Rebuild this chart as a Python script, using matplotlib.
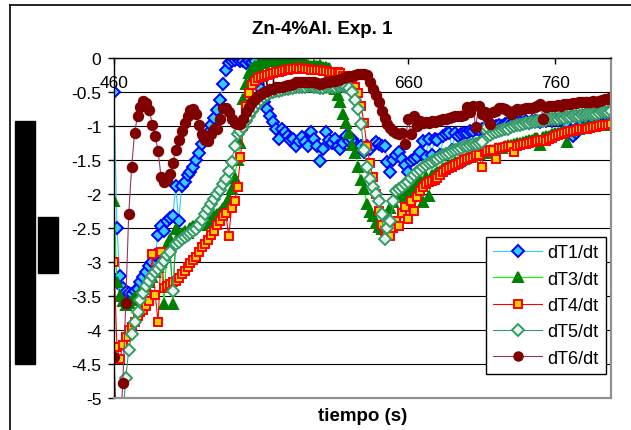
import numpy as np
import matplotlib
matplotlib.use("Agg")
import matplotlib.pyplot as plt
from matplotlib.patches import Rectangle
from matplotlib.lines import Line2D

plt.rcParams['font.family'] = ['Liberation Sans', 'DejaVu Sans']

# tiempo (s), una lectura cada 2 s
t = np.arange(460, 800, 2)

dT1 = [
    -0.5, -2.5, -3.2, -3.38, -3.44, -3.46, -3.47, -3.43, -3.4, -3.3,
    -3.22, -3.14, -3.06, -3.0, -2.9, -2.6, -2.47, -2.54, -2.4, -2.35,
    -2.32, -1.88, -2.4, -1.88, -1.82, -1.72, -1.68, -1.6, -1.5, -1.4,
    -1.27, -1.18, -1.1, -0.98, -0.88, -0.76, -0.62, -0.38, -0.18, -0.08,
    -0.05, -0.03, -0.02, -0.05, -0.04, -0.08, -0.05, -0.06, -0.05, -0.2,
    -0.45, -0.65, -0.75, -0.85, -0.94, -1.04, -1.19, -1.05, -1.09, -1.14,
    -1.2, -1.19, -1.29, -1.22, -1.16, -1.24, -1.3, -1.09, -1.19, -1.3,
    -1.51, -1.34, -1.09, -1.2, -1.25, -1.19, -1.29, -1.34, -1.25, -1.15,
    -1.22, -1.19, -1.26, -1.3, -1.29, -1.38, -1.3, -1.34, -1.28, -1.24,
    -1.26, -1.3, -1.29, -1.53, -1.68, -1.5, -1.42, -1.38, -1.49, -1.58,
    -1.68, -1.52, -1.49, -1.45, -1.38, -1.22, -1.45, -1.19, -1.42, -1.19,
    -1.2, -1.42, -1.15, -1.12, -1.1, -1.35, -1.1, -1.15, -1.12, -1.1,
    -1.1, -1.08, -1.07, -1.05, -1.06, -1.04, -1.03, -1.02, -1.04, -1.0,
    -1.0, -0.98, -1.0, -0.97, -0.96, -0.97, -0.95, -0.96, -0.94, -0.95,
    -0.93, -0.95, -0.92, -0.93, -0.92, -0.94, -0.91, -0.92, -0.9, -0.92,
    -0.9, -0.91, -0.92, -0.95, -1.0, -1.08, -1.14, -1.1, -1.0, -0.95,
    -0.9, -0.88, -0.87, -0.88, -0.86, -0.85, -0.84, -0.84, -0.83, -0.82,
]

dT3 = [
    -2.1, -3.3, -3.5, -3.58, -3.63, -3.6, -3.56, -3.52, -3.48, -3.44,
    -3.4, -3.36, -3.3, -3.22, -3.14, -3.08, -3.0, -3.62, -2.75, -2.66,
    -3.62, -2.52, -2.6, -2.58, -2.55, -2.57, -2.5, -2.47, -2.45, -2.42,
    -2.45, -2.42, -2.4, -2.36, -2.33, -2.3, -2.26, -2.2, -2.14, -2.06,
    -1.92, -1.76, -1.5, -1.25, -0.6, -0.38, -0.22, -0.15, -0.12, -0.1,
    -0.08, -0.07, -0.05, -0.04, -0.03, -0.04, -0.03, -0.04, -0.05, -0.04,
    -0.05, -0.06, -0.05, -0.07, -0.08, -0.07, -0.1, -0.12, -0.1, -0.12,
    -0.11, -0.13, -0.13, -0.15, -0.3, -0.45, -0.55, -0.65, -0.82, -0.95,
    -1.1, -1.28, -1.4, -1.6, -1.8, -1.92, -2.15, -2.27, -2.33, -2.42,
    -2.48, -2.51, -2.4, -2.3, -2.2, -2.12, -2.05, -2.0, -1.98, -2.03,
    -1.95, -1.9, -1.92, -1.85, -1.8, -2.12, -1.75, -2.03, -1.72, -1.7,
    -1.68, -1.66, -1.62, -1.61, -1.58, -1.56, -1.53, -1.53, -1.5, -1.48,
    -1.46, -1.46, -1.43, -1.42, -1.41, -1.39, -1.39, -1.37, -1.35, -1.35,
    -1.33, -1.32, -1.32, -1.3, -1.28, -1.28, -1.26, -1.25, -1.25, -1.23,
    -1.22, -1.21, -1.2, -1.18, -1.18, -1.28, -1.16, -1.14, -1.14, -1.12,
    -1.11, -1.1, -1.09, -1.08, -1.24, -1.07, -1.06, -1.05, -1.04, -1.03,
    -1.02, -1.01, -1.0, -1.0, -0.99, -0.99, -0.98, -0.98, -0.97, -0.97,
]

dT4 = [
    -3.0, -4.25, -4.43, -4.22, -4.1, -4.0, -3.96, -3.88, -3.8, -3.74,
    -3.7, -3.64, -3.58, -2.88, -3.48, -3.88, -2.86, -3.38, -3.35, -3.32,
    -3.3, -3.28, -3.24, -3.18, -3.13, -3.08, -3.02, -2.97, -2.92, -2.85,
    -2.78, -2.74, -2.68, -2.6, -2.54, -2.46, -2.4, -2.32, -2.28, -2.62,
    -2.2, -2.1, -1.9, -1.46, -1.0, -0.7, -0.52, -0.4, -0.34, -0.3,
    -0.28, -0.26, -0.25, -0.24, -0.22, -0.21, -0.2, -0.19, -0.18, -0.17,
    -0.16, -0.16, -0.15, -0.16, -0.15, -0.16, -0.16, -0.17, -0.17, -0.18,
    -0.18, -0.19, -0.19, -0.2, -0.2, -0.21, -0.21, -0.22, -0.26, -0.29,
    -0.31, -0.35, -0.42, -0.52, -0.7, -0.95, -1.3, -1.55, -1.75, -2.0,
    -2.25, -2.45, -2.55, -2.59, -2.62, -2.5, -2.4, -2.47, -2.28, -2.19,
    -2.37, -2.1, -2.25, -2.05, -1.95, -1.9, -1.86, -1.83, -1.81, -1.79,
    -1.76, -1.72, -1.68, -1.65, -1.62, -1.6, -1.58, -1.56, -1.53, -1.5,
    -1.48, -1.47, -1.45, -1.43, -1.42, -1.6, -1.38, -1.37, -1.36, -1.35,
    -1.49, -1.33, -1.32, -1.31, -1.3, -1.3, -1.38, -1.29, -1.28, -1.27,
    -1.26, -1.25, -1.24, -1.23, -1.22, -1.21, -1.2, -1.22, -1.19, -1.17,
    -1.15, -1.13, -1.12, -1.1, -1.09, -1.08, -1.07, -1.06, -1.05, -1.05,
    -1.04, -1.04, -1.03, -1.02, -1.01, -1.0, -0.99, -0.99, -0.98, -0.97,
]

dT5 = [
    -5.9, -5.8, -5.6, -5.3, -4.7, -4.3, -4.06, -3.88, -3.74, -3.56,
    -3.45, -3.36, -3.28, -3.2, -3.15, -3.1, -3.04, -2.98, -2.9, -2.86,
    -3.42, -2.74, -2.7, -2.66, -2.63, -2.6, -2.57, -2.54, -2.51, -2.45,
    -2.38, -2.3, -2.22, -2.15, -2.08, -2.0, -1.94, -1.86, -1.78, -1.66,
    -1.53, -1.3, -1.12, -1.08, -1.02, -0.92, -0.85, -0.78, -0.72, -0.66,
    -0.62, -0.58, -0.54, -0.52, -0.5, -0.49, -0.48, -0.47, -0.46, -0.45,
    -0.44, -0.44, -0.43, -0.43, -0.42, -0.42, -0.41, -0.41, -0.42, -0.43,
    -0.44, -0.44, -0.43, -0.43, -0.42, -0.42, -0.41, -0.41, -0.41, -0.42,
    -0.44, -0.5, -0.62, -0.75, -0.97, -1.35, -1.6, -1.78, -1.9, -2.0,
    -2.1, -2.3, -2.66, -2.5, -2.4, -2.1, -1.95, -1.92, -1.9, -1.86,
    -1.82, -1.76, -1.72, -1.68, -1.64, -1.6, -1.57, -1.55, -1.53, -1.5,
    -1.48, -1.45, -1.43, -1.41, -1.39, -1.37, -1.35, -1.34, -1.32, -1.3,
    -1.29, -1.28, -1.27, -1.26, -1.25, -1.23, -1.05, -1.02, -1.13, -1.11,
    -1.09, -1.08, -1.06, -1.05, -1.04, -1.02, -1.0, -0.99, -0.98, -0.97,
    -0.96, -0.95, -0.94, -0.94, -0.93, -0.92, -0.92, -0.91, -0.9, -0.9,
    -0.89, -0.89, -0.88, -0.88, -0.87, -0.87, -0.86, -0.85, -0.85, -0.84,
    -0.84, -0.83, -0.83, -0.82, -0.82, -0.81, -0.8, -0.8, -0.79, -0.78,
]

dT6 = [
    -4.4, -5.6, -5.5, -4.78, -3.6, -2.3, -1.6, -1.1, -0.85, -0.72,
    -0.63, -0.66, -0.76, -0.98, -1.15, -1.37, -1.75, -1.82, -1.8, -1.7,
    -1.55, -1.35, -1.2, -1.08, -0.95, -0.85, -0.76, -0.75, -0.82, -0.98,
    -1.12, -1.2, -1.22, -1.12, -1.04, -1.05, -0.9, -0.74, -0.73, -0.8,
    -0.9, -0.96, -0.97, -0.97, -0.9, -0.8, -0.72, -0.65, -0.6, -0.56,
    -0.53, -0.5, -0.48, -0.46, -0.45, -0.43, -0.43, -0.42, -0.41, -0.4,
    -0.39, -0.38, -0.36, -0.35, -0.35, -0.35, -0.35, -0.35, -0.36, -0.37,
    -0.38, -0.37, -0.36, -0.35, -0.34, -0.34, -0.33, -0.31, -0.3, -0.28,
    -0.27, -0.26, -0.25, -0.24, -0.24, -0.24, -0.25, -0.35, -0.45, -0.55,
    -0.65, -0.78, -0.88, -0.97, -1.03, -1.08, -1.1, -1.12, -1.1, -1.26,
    -0.9, -1.12, -0.85, -1.0, -0.92, -0.95, -0.94, -0.95, -0.93, -0.94,
    -0.92, -0.91, -0.9, -0.9, -0.88, -0.87, -0.86, -0.86, -0.85, -0.84,
    -0.72, -0.8, -0.7, -1.02, -0.7, -0.82, -0.8, -0.87, -0.97, -0.8,
    -0.78, -0.74, -0.73, -0.75, -0.78, -0.82, -0.78, -0.75, -0.76, -0.75,
    -0.74, -0.73, -0.74, -0.72, -0.7, -0.68, -0.9, -0.72, -0.71, -0.7,
    -0.7, -0.69, -0.7, -0.68, -0.68, -0.67, -0.66, -0.66, -0.65, -0.65,
    -0.65, -0.64, -0.64, -0.63, -0.64, -0.63, -0.62, -0.61, -0.6, -0.57,
]

W, H = 631, 431
fig = plt.figure(figsize=(W / 100, H / 100), dpi=100)
ax = fig.add_axes([114 / W, 1 - 399 / H, 497 / W, 340 / H])

# series: label, values, line colour, marker, edge, face, size
series = [
    ("dT1/dt", dT1, "#33CCFF", "D", "#0000FF", "#33CCFF", 6.3),
    ("dT3/dt", dT3, "#00FF00", "^", "#008000", "#008000", 7.3),
    ("dT4/dt", dT4, "#FF0000", "s", "#FF0000", "#FFCC00", 5.8),
    ("dT5/dt", dT5, "#339966", "D", "#339966", "#E8F4EC", 6.3),
    ("dT6/dt", dT6, "#993366", "o", "#800000", "#800000", 6.8),
]
for lab, vals, lc, mk, mec, mfc, ms in series:
    ax.plot(t, vals, color=lc, lw=0.8, marker=mk, mec=mec, mfc=mfc,
            ms=ms, mew=1.4, label=lab)

ax.set_xlim(460, 798)
ax.set_ylim(-5, 0)
ax.set_xticks([460, 560, 660, 760])
ax.set_yticks(np.arange(-5, 0.01, 0.5))
ax.set_yticklabels(["-5", "-4.5", "-4", "-3.5", "-3", "-2.5", "-2", "-1.5", "-1", "-0.5", "0"])

ax.grid(axis="y", color="black", lw=0.8)
ax.set_axisbelow(True)

# eje x cruza en y = 0
ax.spines["bottom"].set_position(("data", 0))
ax.spines["top"].set_visible(False)
ax.spines["right"].set_color("#909090")
ax.spines["right"].set_linewidth(1.6)
ax.spines["left"].set_linewidth(1.0)
ax.spines["bottom"].set_linewidth(1.0)
ax.axhline(-5, color="#909090", lw=1.6, zorder=3, clip_on=False)

ax.tick_params(axis="x", direction="out", length=4.5, width=1, labelsize=12.5, pad=8)
ax.tick_params(axis="y", direction="out", length=4, width=1, labelsize=12.5, pad=5)

leg = ax.legend(loc="upper left", bbox_to_anchor=(486 / W, 1 - 238 / H),
                bbox_transform=fig.transFigure, borderaxespad=0,
                fontsize=13, handlelength=2.7, handletextpad=0.3,
                labelspacing=0.52, borderpad=0.4, fancybox=False,
                framealpha=1, edgecolor="black", markerscale=0.9)
leg.get_frame().set_linewidth(1.0)

fig.text(322 / W, 1 - 29 / H, "Zn-4%Al. Exp. 1", ha="center", va="center",
         fontsize=13.5, fontweight="bold")
fig.text(362.5 / W, 1 - 417 / H, "tiempo (s)", ha="center", va="center",
         fontsize=13.5, fontweight="bold")

# marco del grafico
fig.add_artist(Line2D([10 / W, 1], [1 - 6 / H, 1 - 6 / H], color="black", lw=1.2))
fig.add_artist(Line2D([10 / W, 10 / W], [0, 1 - 6 / H], color="black", lw=1.2))

# rectangulos negros a la izquierda
fig.add_artist(Rectangle((15 / W, 1 - 365 / H), 20 / W, 243 / H, color="black"))
fig.add_artist(Rectangle((38 / W, 1 - 274 / H), 19.5 / W, 56 / H, color="black"))

fig.savefig("out.png", dpi=100)
